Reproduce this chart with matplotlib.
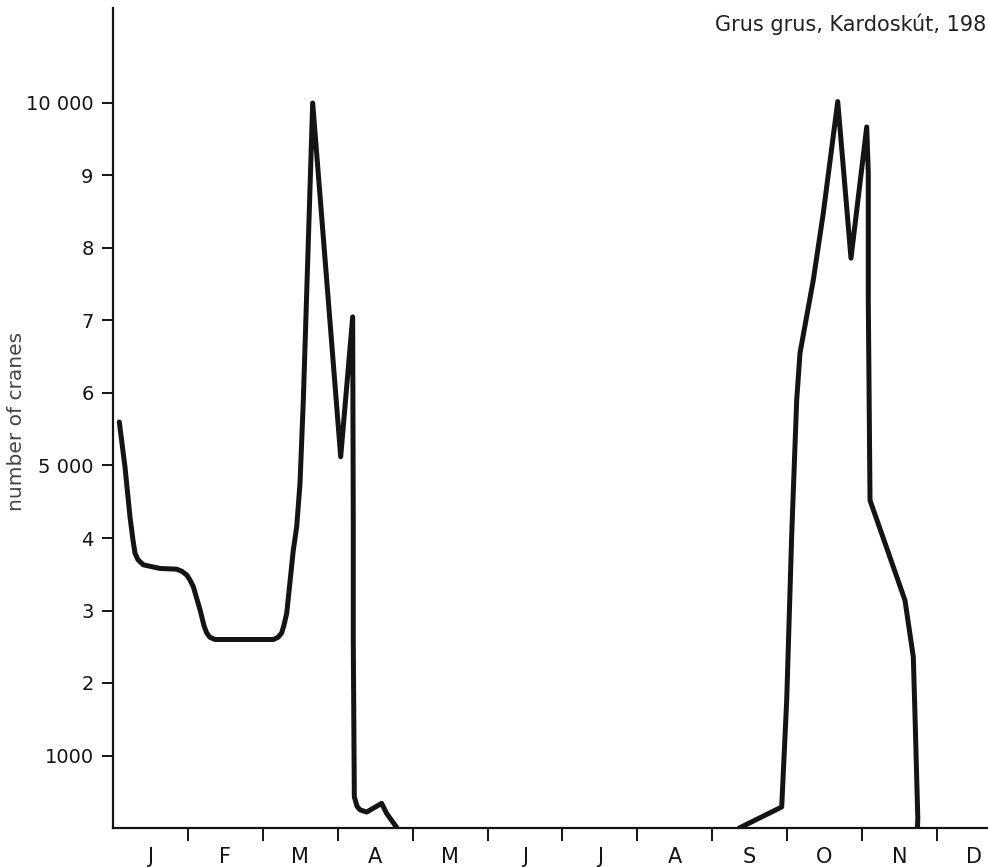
import matplotlib
matplotlib.use("Agg")
import matplotlib.pyplot as plt

# x in months since 1 Jan, y in thousands of cranes
spring_x = [0.084, 0.160, 0.227, 0.267, 0.294, 0.334, 0.405, 0.627, 0.850, 0.921,
            0.984, 1.028, 1.072, 1.162, 1.215, 1.251, 1.295, 1.362, 1.740, 2.140,
            2.203, 2.252, 2.283, 2.319, 2.407, 2.453, 2.497, 2.541, 2.666, 3.040,
            3.200, 3.208, 3.208, 3.222, 3.258, 3.298, 3.387, 3.587, 3.654, 3.765, 3.792]
spring_y = [5.60, 4.98, 4.29, 3.97, 3.79, 3.70, 3.63, 3.58, 3.57, 3.54,
            3.49, 3.42, 3.33, 3.01, 2.79, 2.69, 2.63, 2.60, 2.60, 2.60,
            2.63, 2.69, 2.80, 2.96, 3.83, 4.16, 4.76, 5.90, 10.00, 5.12,
            7.05, 4.16, 2.59, 0.43, 0.30, 0.25, 0.22, 0.34, 0.20, 0.04, 0.00]

autumn_x = [8.362, 8.928, 8.995, 9.062, 9.128, 9.172, 9.350, 9.483, 9.676, 9.853,
            10.063, 10.084, 10.084, 10.107, 10.307, 10.574, 10.685, 10.708, 10.745, 10.740]
autumn_y = [0.00, 0.29, 1.77, 4.06, 5.90, 6.55, 7.56, 8.48, 10.02, 7.86,
            9.67, 9.03, 7.28, 4.52, 3.93, 3.14, 2.36, 1.54, 0.13, 0.00]

months = ["J", "F", "M", "A", "M", "J", "J", "A", "S", "O", "N", "D"]
ytick_vals = [1, 2, 3, 4, 5, 6, 7, 8, 9, 10]
ytick_labels = ["1000", "2", "3", "4", "5 000", "6", "7", "8", "9", "10 000"]

plt.rcParams['font.family'] = ['DejaVu Sans']

fig = plt.figure(figsize=(9.88, 8.67), dpi=100)
ax = fig.add_axes([113/988, 39/867, (988-113)/988, (828-8)/867])

lc = "#141414"
ax.plot(spring_x, spring_y, color=lc, lw=3.6, solid_joinstyle="round", solid_capstyle="round")
ax.plot(autumn_x, autumn_y, color=lc, lw=3.6, solid_joinstyle="round", solid_capstyle="round")

ax.set_xlim(0, (988-113)/74.9)
ax.set_ylim(0, 820/72.5)

for s in ["top", "right"]:
    ax.spines[s].set_visible(False)
for s in ["left", "bottom"]:
    ax.spines[s].set_linewidth(1.6)
    ax.spines[s].set_color(lc)

ax.set_yticks(ytick_vals)
ax.set_yticklabels(ytick_labels)
ax.tick_params(axis="y", direction="out", length=8, width=1.4, labelsize=14,
               pad=6, colors=lc)

ax.set_xticks(list(range(1, 12)))
ax.set_xticklabels([])
ax.set_xticks([i + 0.5 for i in range(12)], minor=True)
ax.set_xticklabels(months, minor=True)
ax.tick_params(axis="x", which="major", direction="out", length=9, width=1.4, colors=lc)
ax.tick_params(axis="x", which="minor", length=0, labelsize=15, pad=14, colors=lc)

fig.text(17/988, 1 - 421/867, "number of cranes", fontsize=14.5, color="#444444",
         rotation=90, ha="center", va="center")

fig.text(715/988, 1 - 24/867, "Grus grus, Kardoskút, 198", fontsize=15,
         color="#222222", ha="left", va="center")

fig.savefig("out.png", dpi=100)
